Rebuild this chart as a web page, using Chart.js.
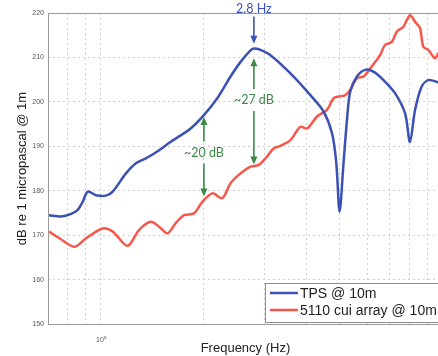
<!DOCTYPE html>
<html>
<head>
<meta charset="utf-8">
<script src="https://cdn.jsdelivr.net/npm/chart.js@4.4.0/dist/chart.umd.min.js"></script>
<style>
  html, body { margin: 0; padding: 0; background: #fff; overflow: hidden; }
  #wrap { width: 460px; height: 356px; }
</style>
</head>
<body>
<div id="wrap"><canvas id="soundChart" width="460" height="356"></canvas></div>
<script>
// TPS @ 10m - frequency (Hz) and level (dB)
let tpsFreq = [0.705, 0.764, 0.818, 0.855, 0.884, 0.915, 0.967, 1.034, 1.082, 1.183, 1.265, 1.353, 1.446,
    1.6, 1.829, 2.0, 2.188, 2.393, 2.56, 2.737, 2.8, 2.9, 3.131, 3.581, 4.096, 4.477, 4.74, 4.877, 4.986,
    5.12, 5.24, 5.355, 5.603, 5.92, 6.26, 6.7, 7.25, 7.75, 8.01, 8.29, 8.66, 9.06, 9.59, 10];
let tpsLevel = [174.5, 174.2, 174.8, 175.7, 177.5, 179.8, 179.0, 178.9, 179.8, 183.9, 186.2, 187.3, 188.6,
    191.0, 194.0, 197.0, 200.8, 205.7, 209.0, 211.6, 212.0, 211.8, 210.5, 206.4, 201.5, 197.8, 192.9, 186.2, 175.3,
    186.2, 195.9, 202.3, 205.7, 207.2, 206.8, 204.9, 201.9, 197.4, 191.0, 198.2, 203.4, 204.9, 204.5, 203.8];

// 5110 cui array @ 10m
let arrayFreq = [0.705, 0.756, 0.836, 0.904, 1.012, 1.082, 1.196, 1.293, 1.399, 1.479, 1.565, 1.654, 1.75,
    1.871, 1.98, 2.117, 2.264, 2.393, 2.56, 2.737, 2.894, 3.028, 3.2, 3.346, 3.581, 3.83, 4.006, 4.284,
    4.58, 4.787, 4.953, 5.18, 5.355, 5.603, 5.86, 6.124, 6.34, 6.55, 6.77, 7.09, 7.33, 7.66, 8.01,
    8.29, 8.57, 8.76, 9.06, 9.48, 9.69, 10];
let arrayLevel = [170.8, 169.3, 167.4, 169.3, 171.5, 170.8, 167.6, 171.2, 173.0, 171.9, 170.4, 172.7, 174.5,
    174.9, 177.5, 179.4, 178.3, 181.7, 183.9, 185.4, 185.8, 187.3, 189.5, 190.1, 191.4, 194.4, 194.0, 196.7,
    198.2, 200.8, 201.2, 201.5, 202.7, 205.3, 205.7, 207.5, 209.0, 210.5, 212.8, 213.5, 215.8, 216.9, 219.5,
    218.0, 216.6, 212.4, 211.7, 209.8, 210.9, 211.5];

let xTicks = [0.7, 0.8, 0.9, 1, 2, 3, 4, 5, 6, 7, 8, 9, 10];
let yTicks = [150, 160, 170, 180, 190, 200, 210, 220];

let seriesNames = ['TPS @ 10m', '5110 cui array @ 10m'];
let seriesColors = ['#3b51b4', '#f7574a'];

// annotations
let peakFreq = 2.8;
let peakLabel = '2.8 Hz';
let peakArrow = [219.2, 213.1];
let gapFreq = [2.0, 2.8];
let gapTop = [196.6, 209.8];
let gapBottom = [178.7, 185.9];
let gapTextAt = [188.6, 200.4];
let gapLabels = ['~20 dB', '~27 dB'];

function toPoints(xs, ys) {
    return xs.map(function(x, i) { return { x: x, y: ys[i] }; });
}

function arrowHead(ctx, x, y, dir) {
    ctx.beginPath();
    ctx.moveTo(x, y);
    ctx.lineTo(x - 3.5, y - dir * 8);
    ctx.lineTo(x + 3.5, y - dir * 8);
    ctx.closePath();
    ctx.fill();
}

let framePlugin = {
    id: 'frame',
    beforeDatasetsDraw: function(chart) {
        let a = chart.chartArea, ctx = chart.ctx;
        ctx.save();
        ctx.strokeStyle = '#9a9a9a';
        ctx.lineWidth = 1;
        ctx.strokeRect(a.left + 0.5, a.top + 0.5, a.right - a.left, a.bottom - a.top);
        ctx.restore();
    }
};

let notesPlugin = {
    id: 'notes',
    afterDatasetsDraw: function(chart) {
        let ctx = chart.ctx, xs = chart.scales.x, ys = chart.scales.y;
        ctx.save();
        ctx.textAlign = 'center';
        ctx.textBaseline = 'middle';
        ctx.font = '12.5px Lato';

        // peak label with arrow
        let px = xs.getPixelForValue(peakFreq);
        ctx.fillStyle = seriesColors[0];
        ctx.strokeStyle = seriesColors[0];
        ctx.lineWidth = 1.6;
        ctx.fillText(peakLabel, px, 9);
        let y1 = ys.getPixelForValue(peakArrow[0]), y2 = ys.getPixelForValue(peakArrow[1]);
        ctx.beginPath(); ctx.moveTo(px, y1); ctx.lineTo(px, y2 - 6); ctx.stroke();
        arrowHead(ctx, px, y2, 1);

        // level difference arrows
        ctx.fillStyle = '#3b8a47';
        ctx.strokeStyle = '#3b8a47';
        for (let i = 0; i < gapFreq.length; i++) {
            let gx = xs.getPixelForValue(gapFreq[i]);
            let top = ys.getPixelForValue(gapTop[i]);
            let bot = ys.getPixelForValue(gapBottom[i]);
            let mid = ys.getPixelForValue(gapTextAt[i]);
            ctx.beginPath();
            ctx.moveTo(gx, top + 6); ctx.lineTo(gx, mid - 11);
            ctx.moveTo(gx, mid + 11); ctx.lineTo(gx, bot - 6);
            ctx.stroke();
            arrowHead(ctx, gx, top, -1);
            arrowHead(ctx, gx, bot, 1);
            ctx.fillText(gapLabels[i], gx, mid);
        }
        ctx.restore();
    }
};

let legendPlugin = {
    id: 'boxLegend',
    afterDraw: function(chart) {
        let a = chart.chartArea, ctx = chart.ctx;
        let left = a.right - 178, top = a.bottom - 41;
        ctx.save();
        ctx.fillStyle = '#fff';
        ctx.fillRect(left, top, 200, 39);
        ctx.strokeStyle = '#8a8a8a';
        ctx.lineWidth = 1;
        ctx.strokeRect(left + 0.5, top + 0.5, 200, 39);
        ctx.font = '14px "Liberation Sans"';
        ctx.textBaseline = 'middle';
        ctx.textAlign = 'left';
        for (let i = 0; i < seriesNames.length; i++) {
            let y = top + 10 + i * 17;
            ctx.strokeStyle = seriesColors[i];
            ctx.lineWidth = 2.5;
            ctx.beginPath(); ctx.moveTo(left + 5, y); ctx.lineTo(left + 33, y); ctx.stroke();
            ctx.fillStyle = '#222';
            ctx.fillText(seriesNames[i], left + 35, y + 1);
        }
        ctx.restore();
    }
};

function initializeChart() {
    let ctx = document.getElementById('soundChart').getContext('2d');
    new Chart(ctx, {
        type: 'line',
        data: {
            datasets: [{
                label: seriesNames[0],
                data: toPoints(tpsFreq, tpsLevel),
                borderColor: seriesColors[0],
                borderWidth: 2.5,
                pointRadius: 0,
                tension: 0.3,
                fill: false
            }, {
                label: seriesNames[1],
                data: toPoints(arrayFreq, arrayLevel),
                borderColor: seriesColors[1],
                borderWidth: 2.5,
                pointRadius: 0,
                tension: 0.3,
                fill: false
            }]
        },
        options: {
            responsive: false,
            animation: false,
            devicePixelRatio: 1,
            layout: { padding: { left: 0, top: 13, right: 17, bottom: 0 } },
            plugins: {
                legend: { display: false },
                tooltip: { enabled: false }
            },
            scales: {
                x: {
                    type: 'logarithmic',
                    min: 0.7,
                    max: 10,
                    afterBuildTicks: function(scale) {
                        scale.ticks = xTicks.map(function(v) { return { value: v }; });
                    },
                    afterFit: function(scale) { scale.height = 32; },
                    grid: {
                        color: '#d0d0d0',
                        drawTicks: false
                    },
                    border: { display: false, dash: [2, 3] },
                    ticks: {
                        autoSkip: false,
                        maxRotation: 0,
                        padding: 12,
                        color: '#555',
                        font: { family: 'Liberation Sans', size: 7 },
                        callback: function(value) {
                            return value === 1 ? '10\u2070' : (value === 10 ? '10\u00b9' : '');
                        }
                    },
                    title: {
                        display: true,
                        text: 'Frequency (Hz)',
                        color: '#222',
                        font: { family: 'Liberation Sans', size: 13 },
                        padding: { top: 0, bottom: 0 }
                    }
                },
                y: {
                    min: 150,
                    max: 220,
                    afterBuildTicks: function(scale) {
                        scale.ticks = yTicks.map(function(v) { return { value: v }; });
                    },
                    afterFit: function(scale) { scale.width = 48; },
                    grid: {
                        color: '#d0d0d0',
                        drawTicks: false
                    },
                    border: { display: false, dash: [2, 3] },
                    ticks: {
                        padding: 4,
                        color: '#555',
                        font: { family: 'Liberation Sans', size: 7 }
                    },
                    title: {
                        display: true,
                        text: 'dB re 1 micropascal @ 1m',
                        color: '#222',
                        font: { family: 'Liberation Sans', size: 13 },
                        padding: { top: 15, bottom: 0 }
                    }
                }
            }
        },
        plugins: [framePlugin, notesPlugin, legendPlugin]
    });
}

window.onload = initializeChart;
</script>
</body>
</html>
